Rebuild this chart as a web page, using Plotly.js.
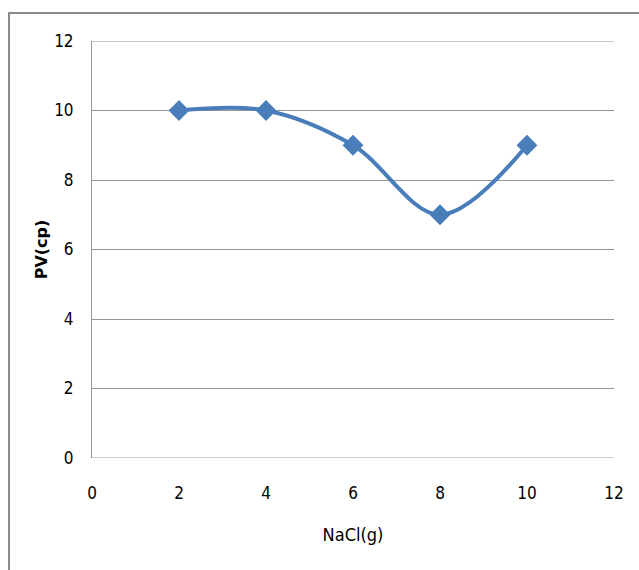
<!DOCTYPE html>
<html>
<head>
<meta charset="utf-8">
<script src="https://cdn.plot.ly/plotly-3.0.1.min.js"></script>
<style>
html,body{margin:0;padding:0;background:#fff;}
#frame{position:absolute;left:8px;top:12px;width:700px;height:700px;border-left:2px solid #8c8c8c;border-top:2px solid #8c8c8c;}
#chart{position:absolute;left:0;top:0;width:639px;height:570px;}
</style>
</head>
<body>
<div id="frame"></div>
<div id="chart"></div>
<script>
const nacl = [2, 4, 6, 8, 10];
const pv = [10, 10, 9, 7, 9];
const xTicks = [0, 2, 4, 6, 8, 10, 12];
const yTicks = [0, 2, 4, 6, 8, 10, 12];
const yEdges = [0, 12];

const font = "'DejaVu Sans Condensed', 'Liberation Sans', Arial, sans-serif";

Plotly.newPlot('chart', [{
  x: nacl, y: pv, type: 'scatter', mode: 'lines+markers',
  line: {shape: 'spline', smoothing: 1, color: '#4a7ebb', width: 4},
  marker: {symbol: 'diamond', size: 16, color: '#4a7ebb'},
  cliponaxis: false
}], {
  width: 639, height: 570,
  margin: {l: 92, r: 25, t: 41, b: 112},
  paper_bgcolor: 'rgba(0,0,0,0)', plot_bgcolor: 'rgba(0,0,0,0)',
  showlegend: false,
  shapes: yEdges.map(v => ({type: 'line', xref: 'paper', yref: 'y', x0: 0, x1: 1, y0: v, y1: v,
    line: {color: '#969696', width: 1}, layer: 'below'})),
  xaxis: {
    range: [0, 12], tickvals: xTicks, ticktext: xTicks.map(String),
    showgrid: false, zeroline: false, showline: false, ticks: '',
    ticklabelstandoff: 23,
    tickfont: {family: font, size: 17, color: '#000'},
    title: {text: 'NaCl(g)', font: {family: font, size: 18, color: '#000'}, standoff: 26}
  },
  yaxis: {
    range: [0, 12], tickvals: yTicks, ticktext: yTicks.map(String),
    showgrid: true, gridcolor: '#969696', gridwidth: 1, zeroline: false,
    showline: true, linecolor: '#969696', linewidth: 1, ticks: '',
    ticklabelstandoff: 14,
    tickfont: {family: font, size: 17, color: '#000'},
    title: {text: '<b>PV(cp)</b>', font: {family: "'DejaVu Sans', Arial, sans-serif", size: 16, color: '#000'}, standoff: 2}
  }
}, {displayModeBar: false, staticPlot: true});
</script>
</body>
</html>
